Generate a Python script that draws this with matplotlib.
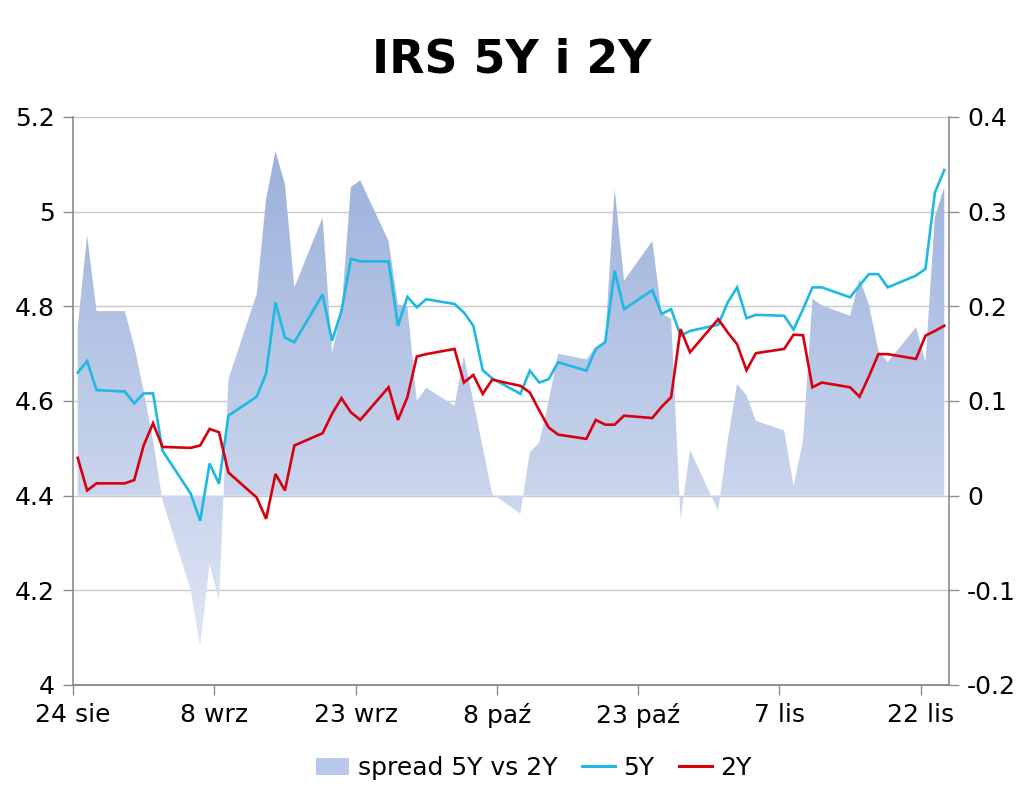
import numpy as np
import pandas as pd
import matplotlib
matplotlib.use("Agg")
import matplotlib.pyplot as plt
from matplotlib.colors import LinearSegmentedColormap
from matplotlib.patches import Patch
from matplotlib.lines import Line2D

# business days, 2011
dates = ["2011-08-24", "2011-08-25", "2011-08-26", "2011-08-29", "2011-08-30", "2011-08-31",
         "2011-09-01", "2011-09-02", "2011-09-05", "2011-09-06", "2011-09-07", "2011-09-08",
         "2011-09-09", "2011-09-12", "2011-09-13", "2011-09-14", "2011-09-15", "2011-09-16",
         "2011-09-19", "2011-09-20", "2011-09-21", "2011-09-22", "2011-09-23", "2011-09-26",
         "2011-09-27", "2011-09-28", "2011-09-29", "2011-09-30", "2011-10-03", "2011-10-04",
         "2011-10-05", "2011-10-06", "2011-10-07", "2011-10-10", "2011-10-11", "2011-10-12",
         "2011-10-13", "2011-10-14", "2011-10-17", "2011-10-18", "2011-10-19", "2011-10-20",
         "2011-10-21", "2011-10-24", "2011-10-25", "2011-10-26", "2011-10-27", "2011-10-28",
         "2011-10-31", "2011-11-01", "2011-11-02", "2011-11-03", "2011-11-04", "2011-11-07",
         "2011-11-08", "2011-11-09", "2011-11-10", "2011-11-11", "2011-11-14", "2011-11-15",
         "2011-11-16", "2011-11-17", "2011-11-18", "2011-11-21", "2011-11-22", "2011-11-23",
         "2011-11-24"]

irs_5y = [4.660, 4.684, 4.623, 4.620, 4.595, 4.616, 4.616, 4.495, 4.404, 4.347, 4.468, 4.425,
          4.569, 4.609, 4.658, 4.808, 4.734, 4.724, 4.825, 4.727, 4.790, 4.900, 4.895, 4.895,
          4.759, 4.820, 4.798, 4.815, 4.805, 4.787, 4.759, 4.665, 4.648, 4.615, 4.664, 4.639,
          4.646, 4.682, 4.664, 4.710, 4.724, 4.875, 4.794, 4.834, 4.784, 4.794, 4.738, 4.748,
          4.761, 4.808, 4.840, 4.775, 4.782, 4.780, 4.751, 4.794, 4.840, 4.840, 4.819, 4.844,
          4.868, 4.868, 4.840, 4.865, 4.879, 5.040, 5.088]

irs_2y = [4.480, 4.411, 4.426, 4.426, 4.433, 4.506, 4.553, 4.503, 4.501, 4.506, 4.541, 4.534,
          4.449, 4.396, 4.351, 4.446, 4.411, 4.506, 4.532, 4.573, 4.606, 4.576, 4.560, 4.629,
          4.560, 4.608, 4.694, 4.699, 4.710, 4.639, 4.655, 4.615, 4.645, 4.632, 4.618, 4.580,
          4.544, 4.529, 4.520, 4.560, 4.550, 4.550, 4.569, 4.564, 4.588, 4.608, 4.752, 4.703,
          4.773, 4.745, 4.720, 4.665, 4.701, 4.710, 4.740, 4.739, 4.629, 4.639, 4.629, 4.609,
          4.652, 4.699, 4.699, 4.689, 4.738, 4.748, 4.759]

spread = [0.178, 0.275, 0.195, 0.195, 0.158, 0.111, 0.058, -0.005, -0.100, -0.160, -0.072, -0.111,
          0.123, 0.213, 0.313, 0.364, 0.329, 0.220, 0.294, 0.151, 0.195, 0.326, 0.333, 0.269,
          0.202, 0.200, 0.100, 0.114, 0.095, 0.148, 0.100, 0.051, 0.002, -0.019, 0.046, 0.056,
          0.100, 0.150, 0.144, 0.157, 0.164, 0.324, 0.227, 0.269, 0.192, 0.187, -0.025, 0.048,
          -0.016, 0.058, 0.118, 0.106, 0.079, 0.069, 0.010, 0.058, 0.208, 0.201, 0.190, 0.229,
          0.202, 0.153, 0.141, 0.178, 0.141, 0.294, 0.326]

tick_labels = ["24 sie", "8 wrz", "23 wrz", "8 paź", "23 paź", "7 lis", "22 lis"]

start = pd.Timestamp("2011-08-24")
# excel date axis: each point sits in the middle of its day
x = (pd.to_datetime(dates) - start).days.values + 0.5
x_max = 93

plt.rcParams['font.family'] = ['DejaVu Sans']
fig = plt.figure(figsize=(10.24, 7.91), dpi=100)
ax1 = fig.add_axes([73 / 1024, 1 - 685 / 791, (949 - 73) / 1024, (685 - 117) / 791])
ax2 = ax1.twinx()
ax1.set_zorder(ax2.get_zorder() + 1)
ax1.patch.set_visible(False)

# spread area with vertical gradient
poly = ax2.fill_between(x, 0, spread, facecolor='none', edgecolor='none')
cmap = LinearSegmentedColormap.from_list('spread', ['#dfe6f5', '#9bb0db'])
grad = np.linspace(0, 1, 256).reshape(-1, 1)
img = ax2.imshow(grad, cmap=cmap, aspect='auto', origin='lower',
                 extent=(0, x_max, min(spread), max(spread)), zorder=2)
img.set_clip_path(poly.get_paths()[0], transform=ax2.transData)

ax1.plot(x, irs_5y, color='#1eb9e3', lw=1.9, solid_joinstyle='miter')
ax1.plot(x, irs_2y, color='#d7000f', lw=1.9, solid_joinstyle='miter')

ax1.set_xlim(0, x_max)
ax2.set_xlim(0, x_max)
ax1.set_ylim(4.0, 5.2)
ax2.set_ylim(-0.2, 0.4)

yl = np.round(np.arange(4.0, 5.21, 0.2), 1)
ax1.set_yticks(yl)
ax1.set_yticklabels([f"{v:g}" for v in yl])
yr = np.round(np.arange(-0.2, 0.41, 0.1), 1)
ax2.set_yticks(yr)
ax2.set_yticklabels([f"{v:g}" for v in yr])
ax1.set_xticks(np.arange(0, 91, 15))
ax1.set_xticklabels(tick_labels)

ax2.grid(axis='y', color='#c8c8c8', lw=1.0)
ax2.set_axisbelow(True)

for ax in (ax1, ax2):
    ax.spines['top'].set_visible(False)
    for s in ('left', 'right', 'bottom'):
        ax.spines[s].set_color('#8c8c8c')
        ax.spines[s].set_linewidth(1.2)
    ax.tick_params(axis='both', direction='out', length=7, width=1, color='#8c8c8c',
                   labelsize=18, labelcolor='black', pad=6)
ax2.spines['left'].set_visible(False)
ax1.spines['right'].set_visible(False)

fig.suptitle("IRS 5Y i 2Y", fontsize=33, fontweight='bold', y=1 - 60 / 791, va='center')

handles = [Patch(facecolor='#b9c8ea', edgecolor='none'),
           Line2D([], [], color='#1eb9e3', lw=2.2),
           Line2D([], [], color='#d7000f', lw=2.2)]
fig.legend(handles, ["spread 5Y vs 2Y", "5Y", "2Y"], loc='center',
           bbox_to_anchor=(534 / 1024, 1 - 768 / 791), ncol=3, frameon=False,
           fontsize=18, handlelength=1.3, handletextpad=0.35, columnspacing=1.0)

fig.savefig("out.png", dpi=100)
